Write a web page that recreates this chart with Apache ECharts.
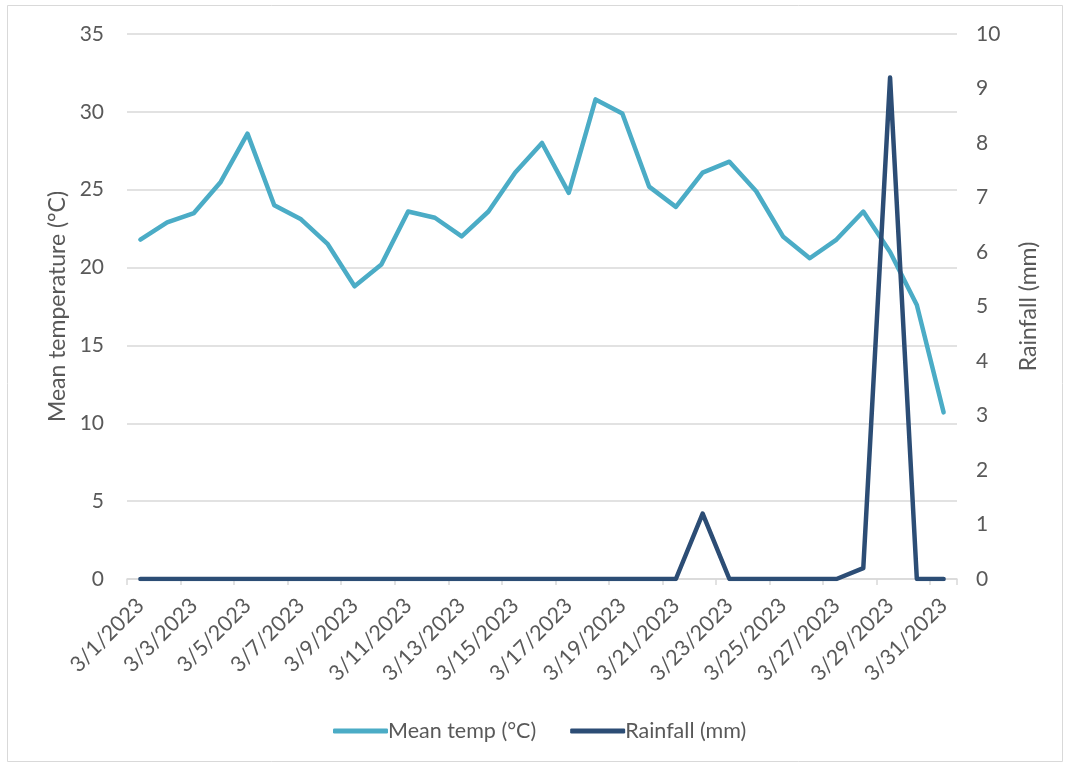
<!DOCTYPE html>
<html>
<head>
<meta charset="utf-8">
<script src="https://cdn.jsdelivr.net/npm/echarts@6/dist/echarts.min.js"></script>
<style>
html,body{margin:0;padding:0;background:#fff;}
#c{width:1069px;height:766px;}
</style>
</head>
<body>
<div id="c"></div>
<script>
const categories = ["3/1/2023","3/2/2023","3/3/2023","3/4/2023","3/5/2023","3/6/2023","3/7/2023","3/8/2023","3/9/2023","3/10/2023","3/11/2023","3/12/2023","3/13/2023","3/14/2023","3/15/2023","3/16/2023","3/17/2023","3/18/2023","3/19/2023","3/20/2023","3/21/2023","3/22/2023","3/23/2023","3/24/2023","3/25/2023","3/26/2023","3/27/2023","3/28/2023","3/29/2023","3/30/2023","3/31/2023"];
const meanTemp = [21.8,22.9,23.5,25.5,28.6,24.0,23.1,21.5,18.8,20.2,23.6,23.2,22.0,23.6,26.1,28.0,24.8,30.8,29.9,25.2,23.9,26.1,26.8,24.9,22.0,20.6,21.8,23.6,21.0,17.6,10.7];
const rainfall = [0,0,0,0,0,0,0,0,0,0,0,0,0,0,0,0,0,0,0,0,0,1.2,0,0,0,0,0,0.2,9.2,0,0];
const tempTicks = {min:0, max:35, interval:5};
const rainTicks = {min:0, max:10, interval:1};

const FONT = 'Lato, "Open Sans", sans-serif';
const TXT = '#595959';
const chart = echarts.init(document.getElementById('c'));
chart.setOption({
  backgroundColor:'#fff',
  animation:false,
  textStyle:{fontFamily:FONT, color:TXT},
  graphic:[{type:'rect', shape:{x:7.5,y:5.5,width:1055,height:756}, style:{fill:'none', stroke:'#d9d9d9', lineWidth:1}, silent:true}],
  grid:{left:127, right:112, top:34, bottom:187, containLabel:false},
  legend:{
    left:328, top:715,
    itemWidth:55, itemHeight:5, itemGap:34,
    icon:'roundRect',
    textStyle:{fontFamily:FONT, fontSize:21.5, color:TXT, padding:[0,0,0,-5]},
    data:['Mean temp (°C)','Rainfall (mm)']
  },
  xAxis:{
    type:'category', data:categories, boundaryGap:true,
    axisLine:{lineStyle:{color:'#d9d9d9', width:1.5}},
    axisTick:{show:true, interval:1, length:6, lineStyle:{color:'#d9d9d9', width:1.5}},
    axisLabel:{interval:1, rotate:45, fontFamily:FONT, fontSize:21.5, color:TXT, margin:23},
    splitLine:{show:false}
  },
  yAxis:[{
    type:'value', min:tempTicks.min, max:tempTicks.max, interval:tempTicks.interval,
    name:'Mean temperature (°C)', nameLocation:'middle', nameGap:52,
    nameTextStyle:{fontFamily:FONT, fontSize:23, color:TXT},
    axisLine:{show:false}, axisTick:{show:false},
    axisLabel:{fontFamily:FONT, fontSize:21, color:TXT, margin:23},
    splitLine:{lineStyle:{color:'#d9d9d9', width:1.5}}
  },{
    type:'value', min:rainTicks.min, max:rainTicks.max, interval:rainTicks.interval,
    name:'Rainfall (mm)', nameLocation:'middle', nameGap:60,
    nameTextStyle:{fontFamily:FONT, fontSize:23, color:TXT},
    axisLine:{show:false}, axisTick:{show:false},
    axisLabel:{fontFamily:FONT, fontSize:21, color:TXT, margin:19},
    splitLine:{show:false}
  }],
  series:[{
    name:'Mean temp (°C)', type:'line', data:meanTemp, yAxisIndex:0,
    showSymbol:false, symbol:'none', color:'#4bacc6',
    lineStyle:{width:4.5, color:'#4bacc6', cap:'round', join:'round'}
  },{
    name:'Rainfall (mm)', type:'line', data:rainfall, yAxisIndex:1,
    showSymbol:false, symbol:'none', color:'#2c4d75',
    lineStyle:{width:4.5, color:'#2c4d75', cap:'round', join:'round'}
  }]
});
</script>
</body>
</html>
